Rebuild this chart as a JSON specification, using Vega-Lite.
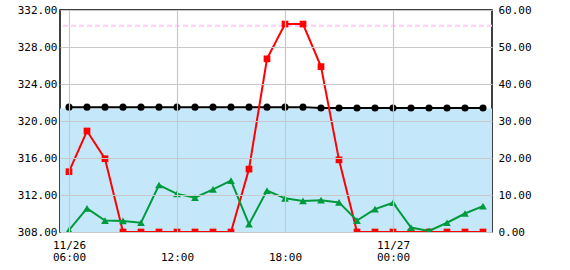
{
  "$schema": "https://vega.github.io/schema/vega-lite/v6.json",
  "width": 432,
  "height": 222,
  "autosize": "none",
  "padding": {"left": 60, "top": 10, "right": 78, "bottom": 38},
  "background": "white",
  "config": {
    "view": {"stroke": "black", "strokeWidth": 1.5},
    "axis": {
      "labelFont": "DejaVu Sans Mono",
      "labelFontSize": 11,
      "labelColor": "black",
      "ticks": false,
      "domain": false,
      "gridColor": "#c8c8c8",
      "gridWidth": 1.2,
      "title": null
    }
  },
  "datasets": {
    "obs": [
      {"t": "2023-11-26T06:00:00Z", "level": 321.5, "red": 16.3, "green": 0.5},
      {"t": "2023-11-26T07:00:00Z", "level": 321.5, "red": 27.3, "green": 6.4},
      {"t": "2023-11-26T08:00:00Z", "level": 321.5, "red": 19.8, "green": 3.1},
      {"t": "2023-11-26T09:00:00Z", "level": 321.5, "red": 0, "green": 3.0},
      {"t": "2023-11-26T10:00:00Z", "level": 321.5, "red": 0, "green": 2.5},
      {"t": "2023-11-26T11:00:00Z", "level": 321.5, "red": 0, "green": 12.7},
      {"t": "2023-11-26T12:00:00Z", "level": 321.5, "red": 0, "green": 10.3},
      {"t": "2023-11-26T13:00:00Z", "level": 321.5, "red": 0, "green": 9.3},
      {"t": "2023-11-26T14:00:00Z", "level": 321.5, "red": 0, "green": 11.5},
      {"t": "2023-11-26T15:00:00Z", "level": 321.5, "red": 0, "green": 13.9},
      {"t": "2023-11-26T16:00:00Z", "level": 321.5, "red": 17.0, "green": 2.1},
      {"t": "2023-11-26T17:00:00Z", "level": 321.5, "red": 46.8, "green": 11.2},
      {"t": "2023-11-26T18:00:00Z", "level": 321.5, "red": 56.2, "green": 9.1},
      {"t": "2023-11-26T19:00:00Z", "level": 321.5, "red": 56.2, "green": 8.4},
      {"t": "2023-11-26T20:00:00Z", "level": 321.4, "red": 44.7, "green": 8.6},
      {"t": "2023-11-26T21:00:00Z", "level": 321.4, "red": 19.5, "green": 8.0},
      {"t": "2023-11-26T22:00:00Z", "level": 321.4, "red": 0, "green": 3.1},
      {"t": "2023-11-26T23:00:00Z", "level": 321.4, "red": 0, "green": 6.2},
      {"t": "2023-11-27T00:00:00Z", "level": 321.4, "red": 0, "green": 7.9},
      {"t": "2023-11-27T01:00:00Z", "level": 321.4, "red": 0, "green": 1.2},
      {"t": "2023-11-27T02:00:00Z", "level": 321.4, "red": 0, "green": 0.3},
      {"t": "2023-11-27T03:00:00Z", "level": 321.4, "red": 0, "green": 2.5},
      {"t": "2023-11-27T04:00:00Z", "level": 321.4, "red": 0, "green": 5.0},
      {"t": "2023-11-27T05:00:00Z", "level": 321.4, "red": 0, "green": 7.0}
    ],
    "bands": [{"base": 308, "top": 321.35, "limit": 330.3}]
  },
  "resolve": {"scale": {"y": "independent"}},
  "layer": [
    {
      "layer": [
        {
          "data": {"name": "bands"},
          "mark": {"type": "rect", "color": "#c4e8fa"},
          "encoding": {
            "y": {
              "field": "base", "type": "quantitative",
              "scale": {"domain": [308, 332], "nice": false, "zero": false},
              "axis": {
                "orient": "left", "values": [308, 312, 316, 320, 324, 328, 332],
                "tickCount": 7,
                "format": ".2f", "grid": true, "labelPadding": 3, "zindex": 1,
                "labelOverlap": "greedy", "labelSeparation": 0
              }
            },
            "y2": {"field": "top"}
          }
        },
        {
          "data": {"name": "bands"},
          "mark": {"type": "rule", "color": "#ffccff", "strokeDash": [5, 3], "strokeWidth": 2},
          "encoding": {
            "y": {"field": "limit", "type": "quantitative"}
          }
        },
        {
          "data": {"name": "obs"},
          "mark": {"type": "line", "color": "black", "strokeWidth": 2,
                   "point": {"shape": "circle", "size": 50, "filled": true, "color": "black", "opacity": 1}},
          "encoding": {
            "x": {
              "field": "t", "type": "temporal",
              "scale": {"type": "utc", "domain": [
                {"year": 2023, "month": 11, "date": 26, "hours": 5, "minutes": 30, "utc": true},
                {"year": 2023, "month": 11, "date": 27, "hours": 5, "minutes": 30, "utc": true}
              ]},
              "axis": {
                "values": [
                  {"year": 2023, "month": 11, "date": 26, "hours": 6, "utc": true},
                  {"year": 2023, "month": 11, "date": 26, "hours": 12, "utc": true},
                  {"year": 2023, "month": 11, "date": 26, "hours": 18, "utc": true},
                  {"year": 2023, "month": 11, "date": 27, "hours": 0, "utc": true}
                ],
                "labelExpr": "utchours(datum.value) == 6 ? ['11/26', '06:00'] : (utchours(datum.value) == 0 ? ['11/27', '00:00'] : [' ', utcFormat(datum.value, '%H:%M')])",
                "grid": true, "labelPadding": 7, "labelLineHeight": 12,
                "labelBaseline": "top", "labelAlign": "center", "labelFlush": false,
                "labelOverlap": false, "zindex": 1
              }
            },
            "y": {"field": "level", "type": "quantitative"}
          }
        }
      ]
    },
    {
      "data": {"name": "obs"},
      "layer": [
        {
          "mark": {"type": "line", "color": "#ff0000", "strokeWidth": 2, "clip": true,
                   "point": {"shape": "square", "size": 45, "filled": true, "color": "#ff0000", "opacity": 1, "clip": true}},
          "encoding": {
            "x": {"field": "t", "type": "temporal"},
            "y": {
              "field": "red", "type": "quantitative",
              "scale": {"domain": [0, 60], "nice": false},
              "axis": {
                "orient": "right", "values": [0, 10, 20, 30, 40, 50, 60],
                "tickCount": 7,
                "format": ".2f", "grid": false, "labelPadding": 6,
                "labelOverlap": "greedy", "labelSeparation": 0
              }
            }
          }
        },
        {
          "mark": {"type": "line", "color": "#009a3e", "strokeWidth": 2, "clip": true,
                   "point": {"shape": "triangle-up", "size": 60, "filled": true, "color": "#009a3e", "opacity": 1, "clip": true}},
          "encoding": {
            "x": {"field": "t", "type": "temporal"},
            "y": {"field": "green", "type": "quantitative"}
          }
        }
      ]
    }
  ]
}
